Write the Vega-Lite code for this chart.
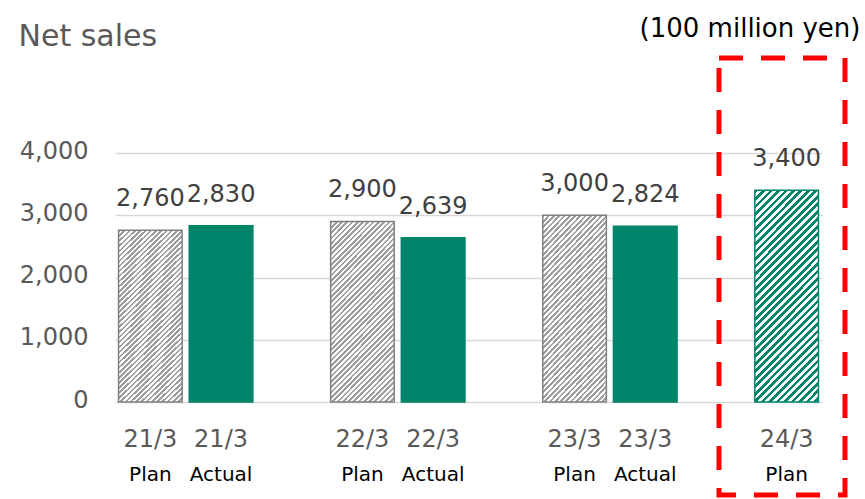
{
  "$schema": "https://vega.github.io/schema/vega-lite/v6.json",
  "width": 707,
  "height": 249,
  "autosize": {"type": "none"},
  "padding": {"left": 115, "top": 153, "right": 43, "bottom": 97},
  "background": "#ffffff",
  "config": {"view": {"stroke": null}, "font": "DejaVu Sans"},
  "data": {"values": [
    {"key": "21/3 Plan", "period": "21/3", "type": "Plan", "value": 2760},
    {"key": "21/3 Actual", "period": "21/3", "type": "Actual", "value": 2830},
    {"key": "22/3 Plan", "period": "22/3", "type": "Plan", "value": 2900},
    {"key": "22/3 Actual", "period": "22/3", "type": "Actual", "value": 2639},
    {"key": "23/3 Plan", "period": "23/3", "type": "Plan", "value": 3000},
    {"key": "23/3 Actual", "period": "23/3", "type": "Actual", "value": 2824},
    {"key": "24/3 Plan", "period": "24/3", "type": "Plan", "value": 3400}
  ]},
  "resolve": {"scale": {"x": "independent", "y": "independent"}},
  "layer": [
    {
      "mark": {"type": "bar", "strokeWidth": 1.5},
      "encoding": {
        "x": {
          "field": "key", "type": "nominal",
          "scale": {"type": "band", "domain": ["21/3 Plan", "21/3 Actual", "gap1", "22/3 Plan", "22/3 Actual", "gap2", "23/3 Plan", "23/3 Actual", "gap3", "24/3 Plan"], "paddingInner": 0.1, "paddingOuter": 0.05},
          "axis": {"orient": "bottom", "domain": false, "ticks": false, "grid": false, "labelAngle": 0, "labelOverlap": false, "labelBound": false, "labelFlush": false,
            "labelExpr": "length(split(datum.value, ' ')) > 1 ? split(datum.value, ' ')[0] : ''",
            "labelFontSize": 24, "labelColor": "#595959", "labelFont": "DejaVu Sans", "labelPadding": 44, "labelBaseline": "alphabetic", "title": null}
        },
        "y": {
          "field": "value", "type": "quantitative",
          "scale": {"domain": [0, 4000]},
          "axis": {"values": [0, 1000, 2000, 3000, 4000], "format": ",.0f", "grid": true, "gridColor": "#d9d9d9", "gridWidth": 1.3, "domain": false, "ticks": false,
            "labelFontSize": 24, "labelColor": "#595959", "labelFont": "DejaVu Sans", "labelPadding": 27, "labelBaseline": "middle", "labelOffset": -2,
            "title": "Net sales", "titleAngle": 0, "titleX": -97, "titleY": -108, "titleAlign": "left", "titleBaseline": "alphabetic",
            "titleFontSize": 30, "titleFont": "DejaVu Sans", "titleFontWeight": "normal", "titleColor": "#595959"}
        },
        "fill": {
          "condition": [
            {"test": "datum.type === 'Actual'", "value": "#00846a"},
            {"test": "datum.period === '24/3'", "value": {"gradient": "linear", "x1": 0, "y1": 0, "x2": 0.489, "y2": 1.621, "stops": [
{"offset":0,"color":"#00846a"},{"offset":0.01,"color":"#00846a"},{"offset":0.01,"color":"#fff"},{"offset":0.02,"color":"#fff"},
{"offset":0.02,"color":"#00846a"},{"offset":0.03,"color":"#00846a"},{"offset":0.03,"color":"#fff"},{"offset":0.04,"color":"#fff"},
{"offset":0.04,"color":"#00846a"},{"offset":0.05,"color":"#00846a"},{"offset":0.05,"color":"#fff"},{"offset":0.06,"color":"#fff"},
{"offset":0.06,"color":"#00846a"},{"offset":0.07,"color":"#00846a"},{"offset":0.07,"color":"#fff"},{"offset":0.08,"color":"#fff"},
{"offset":0.08,"color":"#00846a"},{"offset":0.09,"color":"#00846a"},{"offset":0.09,"color":"#fff"},{"offset":0.10,"color":"#fff"},
{"offset":0.10,"color":"#00846a"},{"offset":0.11,"color":"#00846a"},{"offset":0.11,"color":"#fff"},{"offset":0.12,"color":"#fff"},
{"offset":0.12,"color":"#00846a"},{"offset":0.13,"color":"#00846a"},{"offset":0.13,"color":"#fff"},{"offset":0.14,"color":"#fff"},
{"offset":0.14,"color":"#00846a"},{"offset":0.15,"color":"#00846a"},{"offset":0.15,"color":"#fff"},{"offset":0.16,"color":"#fff"},
{"offset":0.16,"color":"#00846a"},{"offset":0.17,"color":"#00846a"},{"offset":0.17,"color":"#fff"},{"offset":0.18,"color":"#fff"},
{"offset":0.18,"color":"#00846a"},{"offset":0.19,"color":"#00846a"},{"offset":0.19,"color":"#fff"},{"offset":0.20,"color":"#fff"},
{"offset":0.20,"color":"#00846a"},{"offset":0.21,"color":"#00846a"},{"offset":0.21,"color":"#fff"},{"offset":0.22,"color":"#fff"},
{"offset":0.22,"color":"#00846a"},{"offset":0.23,"color":"#00846a"},{"offset":0.23,"color":"#fff"},{"offset":0.24,"color":"#fff"},
{"offset":0.24,"color":"#00846a"},{"offset":0.25,"color":"#00846a"},{"offset":0.25,"color":"#fff"},{"offset":0.26,"color":"#fff"},
{"offset":0.26,"color":"#00846a"},{"offset":0.27,"color":"#00846a"},{"offset":0.27,"color":"#fff"},{"offset":0.28,"color":"#fff"},
{"offset":0.28,"color":"#00846a"},{"offset":0.29,"color":"#00846a"},{"offset":0.29,"color":"#fff"},{"offset":0.30,"color":"#fff"},
{"offset":0.30,"color":"#00846a"},{"offset":0.31,"color":"#00846a"},{"offset":0.31,"color":"#fff"},{"offset":0.32,"color":"#fff"},
{"offset":0.32,"color":"#00846a"},{"offset":0.33,"color":"#00846a"},{"offset":0.33,"color":"#fff"},{"offset":0.34,"color":"#fff"},
{"offset":0.34,"color":"#00846a"},{"offset":0.35,"color":"#00846a"},{"offset":0.35,"color":"#fff"},{"offset":0.36,"color":"#fff"},
{"offset":0.36,"color":"#00846a"},{"offset":0.37,"color":"#00846a"},{"offset":0.37,"color":"#fff"},{"offset":0.38,"color":"#fff"},
{"offset":0.38,"color":"#00846a"},{"offset":0.39,"color":"#00846a"},{"offset":0.39,"color":"#fff"},{"offset":0.40,"color":"#fff"},
{"offset":0.40,"color":"#00846a"},{"offset":0.41,"color":"#00846a"},{"offset":0.41,"color":"#fff"},{"offset":0.42,"color":"#fff"},
{"offset":0.42,"color":"#00846a"},{"offset":0.43,"color":"#00846a"},{"offset":0.43,"color":"#fff"},{"offset":0.44,"color":"#fff"},
{"offset":0.44,"color":"#00846a"},{"offset":0.45,"color":"#00846a"},{"offset":0.45,"color":"#fff"},{"offset":0.46,"color":"#fff"},
{"offset":0.46,"color":"#00846a"},{"offset":0.47,"color":"#00846a"},{"offset":0.47,"color":"#fff"},{"offset":0.48,"color":"#fff"},
{"offset":0.48,"color":"#00846a"},{"offset":0.49,"color":"#00846a"},{"offset":0.49,"color":"#fff"},{"offset":0.50,"color":"#fff"},
{"offset":0.50,"color":"#00846a"},{"offset":0.51,"color":"#00846a"},{"offset":0.51,"color":"#fff"},{"offset":0.52,"color":"#fff"},
{"offset":0.52,"color":"#00846a"},{"offset":0.53,"color":"#00846a"},{"offset":0.53,"color":"#fff"},{"offset":0.54,"color":"#fff"},
{"offset":0.54,"color":"#00846a"},{"offset":0.55,"color":"#00846a"},{"offset":0.55,"color":"#fff"},{"offset":0.56,"color":"#fff"},
{"offset":0.56,"color":"#00846a"},{"offset":0.57,"color":"#00846a"},{"offset":0.57,"color":"#fff"},{"offset":0.58,"color":"#fff"},
{"offset":0.58,"color":"#00846a"},{"offset":0.59,"color":"#00846a"},{"offset":0.59,"color":"#fff"},{"offset":0.60,"color":"#fff"},
{"offset":0.60,"color":"#00846a"},{"offset":0.61,"color":"#00846a"},{"offset":0.61,"color":"#fff"},{"offset":0.62,"color":"#fff"},
{"offset":0.62,"color":"#00846a"},{"offset":0.63,"color":"#00846a"},{"offset":0.63,"color":"#fff"},{"offset":0.64,"color":"#fff"},
{"offset":0.64,"color":"#00846a"},{"offset":0.65,"color":"#00846a"},{"offset":0.65,"color":"#fff"},{"offset":0.66,"color":"#fff"},
{"offset":0.66,"color":"#00846a"},{"offset":0.67,"color":"#00846a"},{"offset":0.67,"color":"#fff"},{"offset":0.68,"color":"#fff"},
{"offset":0.68,"color":"#00846a"},{"offset":0.69,"color":"#00846a"},{"offset":0.69,"color":"#fff"},{"offset":0.70,"color":"#fff"},
{"offset":0.70,"color":"#00846a"},{"offset":0.71,"color":"#00846a"},{"offset":0.71,"color":"#fff"},{"offset":0.72,"color":"#fff"},
{"offset":0.72,"color":"#00846a"},{"offset":0.73,"color":"#00846a"},{"offset":0.73,"color":"#fff"},{"offset":0.74,"color":"#fff"},
{"offset":0.74,"color":"#00846a"},{"offset":0.75,"color":"#00846a"},{"offset":0.75,"color":"#fff"},{"offset":0.76,"color":"#fff"},
{"offset":0.76,"color":"#00846a"},{"offset":0.77,"color":"#00846a"},{"offset":0.77,"color":"#fff"},{"offset":0.78,"color":"#fff"},
{"offset":0.78,"color":"#00846a"},{"offset":0.79,"color":"#00846a"},{"offset":0.79,"color":"#fff"},{"offset":0.80,"color":"#fff"},
{"offset":0.80,"color":"#00846a"},{"offset":0.81,"color":"#00846a"},{"offset":0.81,"color":"#fff"},{"offset":0.82,"color":"#fff"},
{"offset":0.82,"color":"#00846a"},{"offset":0.83,"color":"#00846a"},{"offset":0.83,"color":"#fff"},{"offset":0.84,"color":"#fff"},
{"offset":0.84,"color":"#00846a"},{"offset":0.85,"color":"#00846a"},{"offset":0.85,"color":"#fff"},{"offset":0.86,"color":"#fff"},
{"offset":0.86,"color":"#00846a"},{"offset":0.87,"color":"#00846a"},{"offset":0.87,"color":"#fff"},{"offset":0.88,"color":"#fff"},
{"offset":0.88,"color":"#00846a"},{"offset":0.89,"color":"#00846a"},{"offset":0.89,"color":"#fff"},{"offset":0.90,"color":"#fff"},
{"offset":0.90,"color":"#00846a"},{"offset":0.91,"color":"#00846a"},{"offset":0.91,"color":"#fff"},{"offset":0.92,"color":"#fff"},
{"offset":0.92,"color":"#00846a"},{"offset":0.93,"color":"#00846a"},{"offset":0.93,"color":"#fff"},{"offset":0.94,"color":"#fff"},
{"offset":0.94,"color":"#00846a"},{"offset":0.95,"color":"#00846a"},{"offset":0.95,"color":"#fff"},{"offset":0.96,"color":"#fff"},
{"offset":0.96,"color":"#00846a"},{"offset":0.97,"color":"#00846a"},{"offset":0.97,"color":"#fff"},{"offset":0.98,"color":"#fff"},
{"offset":0.98,"color":"#00846a"},{"offset":0.99,"color":"#00846a"},{"offset":0.99,"color":"#fff"},{"offset":1,"color":"#fff"}
            ]}}
          ],
          "value": {"gradient": "linear", "x1": 0, "y1": 0, "x2": 0.465, "y2": 1.307, "stops": [
{"offset":0,"color":"#9e9e9e"},{"offset":0.01,"color":"#9e9e9e"},{"offset":0.01,"color":"#fff"},{"offset":0.02,"color":"#fff"},
{"offset":0.02,"color":"#9e9e9e"},{"offset":0.03,"color":"#9e9e9e"},{"offset":0.03,"color":"#fff"},{"offset":0.04,"color":"#fff"},
{"offset":0.04,"color":"#9e9e9e"},{"offset":0.05,"color":"#9e9e9e"},{"offset":0.05,"color":"#fff"},{"offset":0.06,"color":"#fff"},
{"offset":0.06,"color":"#9e9e9e"},{"offset":0.07,"color":"#9e9e9e"},{"offset":0.07,"color":"#fff"},{"offset":0.08,"color":"#fff"},
{"offset":0.08,"color":"#9e9e9e"},{"offset":0.09,"color":"#9e9e9e"},{"offset":0.09,"color":"#fff"},{"offset":0.10,"color":"#fff"},
{"offset":0.10,"color":"#9e9e9e"},{"offset":0.11,"color":"#9e9e9e"},{"offset":0.11,"color":"#fff"},{"offset":0.12,"color":"#fff"},
{"offset":0.12,"color":"#9e9e9e"},{"offset":0.13,"color":"#9e9e9e"},{"offset":0.13,"color":"#fff"},{"offset":0.14,"color":"#fff"},
{"offset":0.14,"color":"#9e9e9e"},{"offset":0.15,"color":"#9e9e9e"},{"offset":0.15,"color":"#fff"},{"offset":0.16,"color":"#fff"},
{"offset":0.16,"color":"#9e9e9e"},{"offset":0.17,"color":"#9e9e9e"},{"offset":0.17,"color":"#fff"},{"offset":0.18,"color":"#fff"},
{"offset":0.18,"color":"#9e9e9e"},{"offset":0.19,"color":"#9e9e9e"},{"offset":0.19,"color":"#fff"},{"offset":0.20,"color":"#fff"},
{"offset":0.20,"color":"#9e9e9e"},{"offset":0.21,"color":"#9e9e9e"},{"offset":0.21,"color":"#fff"},{"offset":0.22,"color":"#fff"},
{"offset":0.22,"color":"#9e9e9e"},{"offset":0.23,"color":"#9e9e9e"},{"offset":0.23,"color":"#fff"},{"offset":0.24,"color":"#fff"},
{"offset":0.24,"color":"#9e9e9e"},{"offset":0.25,"color":"#9e9e9e"},{"offset":0.25,"color":"#fff"},{"offset":0.26,"color":"#fff"},
{"offset":0.26,"color":"#9e9e9e"},{"offset":0.27,"color":"#9e9e9e"},{"offset":0.27,"color":"#fff"},{"offset":0.28,"color":"#fff"},
{"offset":0.28,"color":"#9e9e9e"},{"offset":0.29,"color":"#9e9e9e"},{"offset":0.29,"color":"#fff"},{"offset":0.30,"color":"#fff"},
{"offset":0.30,"color":"#9e9e9e"},{"offset":0.31,"color":"#9e9e9e"},{"offset":0.31,"color":"#fff"},{"offset":0.32,"color":"#fff"},
{"offset":0.32,"color":"#9e9e9e"},{"offset":0.33,"color":"#9e9e9e"},{"offset":0.33,"color":"#fff"},{"offset":0.34,"color":"#fff"},
{"offset":0.34,"color":"#9e9e9e"},{"offset":0.35,"color":"#9e9e9e"},{"offset":0.35,"color":"#fff"},{"offset":0.36,"color":"#fff"},
{"offset":0.36,"color":"#9e9e9e"},{"offset":0.37,"color":"#9e9e9e"},{"offset":0.37,"color":"#fff"},{"offset":0.38,"color":"#fff"},
{"offset":0.38,"color":"#9e9e9e"},{"offset":0.39,"color":"#9e9e9e"},{"offset":0.39,"color":"#fff"},{"offset":0.40,"color":"#fff"},
{"offset":0.40,"color":"#9e9e9e"},{"offset":0.41,"color":"#9e9e9e"},{"offset":0.41,"color":"#fff"},{"offset":0.42,"color":"#fff"},
{"offset":0.42,"color":"#9e9e9e"},{"offset":0.43,"color":"#9e9e9e"},{"offset":0.43,"color":"#fff"},{"offset":0.44,"color":"#fff"},
{"offset":0.44,"color":"#9e9e9e"},{"offset":0.45,"color":"#9e9e9e"},{"offset":0.45,"color":"#fff"},{"offset":0.46,"color":"#fff"},
{"offset":0.46,"color":"#9e9e9e"},{"offset":0.47,"color":"#9e9e9e"},{"offset":0.47,"color":"#fff"},{"offset":0.48,"color":"#fff"},
{"offset":0.48,"color":"#9e9e9e"},{"offset":0.49,"color":"#9e9e9e"},{"offset":0.49,"color":"#fff"},{"offset":0.50,"color":"#fff"},
{"offset":0.50,"color":"#9e9e9e"},{"offset":0.51,"color":"#9e9e9e"},{"offset":0.51,"color":"#fff"},{"offset":0.52,"color":"#fff"},
{"offset":0.52,"color":"#9e9e9e"},{"offset":0.53,"color":"#9e9e9e"},{"offset":0.53,"color":"#fff"},{"offset":0.54,"color":"#fff"},
{"offset":0.54,"color":"#9e9e9e"},{"offset":0.55,"color":"#9e9e9e"},{"offset":0.55,"color":"#fff"},{"offset":0.56,"color":"#fff"},
{"offset":0.56,"color":"#9e9e9e"},{"offset":0.57,"color":"#9e9e9e"},{"offset":0.57,"color":"#fff"},{"offset":0.58,"color":"#fff"},
{"offset":0.58,"color":"#9e9e9e"},{"offset":0.59,"color":"#9e9e9e"},{"offset":0.59,"color":"#fff"},{"offset":0.60,"color":"#fff"},
{"offset":0.60,"color":"#9e9e9e"},{"offset":0.61,"color":"#9e9e9e"},{"offset":0.61,"color":"#fff"},{"offset":0.62,"color":"#fff"},
{"offset":0.62,"color":"#9e9e9e"},{"offset":0.63,"color":"#9e9e9e"},{"offset":0.63,"color":"#fff"},{"offset":0.64,"color":"#fff"},
{"offset":0.64,"color":"#9e9e9e"},{"offset":0.65,"color":"#9e9e9e"},{"offset":0.65,"color":"#fff"},{"offset":0.66,"color":"#fff"},
{"offset":0.66,"color":"#9e9e9e"},{"offset":0.67,"color":"#9e9e9e"},{"offset":0.67,"color":"#fff"},{"offset":0.68,"color":"#fff"},
{"offset":0.68,"color":"#9e9e9e"},{"offset":0.69,"color":"#9e9e9e"},{"offset":0.69,"color":"#fff"},{"offset":0.70,"color":"#fff"},
{"offset":0.70,"color":"#9e9e9e"},{"offset":0.71,"color":"#9e9e9e"},{"offset":0.71,"color":"#fff"},{"offset":0.72,"color":"#fff"},
{"offset":0.72,"color":"#9e9e9e"},{"offset":0.73,"color":"#9e9e9e"},{"offset":0.73,"color":"#fff"},{"offset":0.74,"color":"#fff"},
{"offset":0.74,"color":"#9e9e9e"},{"offset":0.75,"color":"#9e9e9e"},{"offset":0.75,"color":"#fff"},{"offset":0.76,"color":"#fff"},
{"offset":0.76,"color":"#9e9e9e"},{"offset":0.77,"color":"#9e9e9e"},{"offset":0.77,"color":"#fff"},{"offset":0.78,"color":"#fff"},
{"offset":0.78,"color":"#9e9e9e"},{"offset":0.79,"color":"#9e9e9e"},{"offset":0.79,"color":"#fff"},{"offset":0.80,"color":"#fff"},
{"offset":0.80,"color":"#9e9e9e"},{"offset":0.81,"color":"#9e9e9e"},{"offset":0.81,"color":"#fff"},{"offset":0.82,"color":"#fff"},
{"offset":0.82,"color":"#9e9e9e"},{"offset":0.83,"color":"#9e9e9e"},{"offset":0.83,"color":"#fff"},{"offset":0.84,"color":"#fff"},
{"offset":0.84,"color":"#9e9e9e"},{"offset":0.85,"color":"#9e9e9e"},{"offset":0.85,"color":"#fff"},{"offset":0.86,"color":"#fff"},
{"offset":0.86,"color":"#9e9e9e"},{"offset":0.87,"color":"#9e9e9e"},{"offset":0.87,"color":"#fff"},{"offset":0.88,"color":"#fff"},
{"offset":0.88,"color":"#9e9e9e"},{"offset":0.89,"color":"#9e9e9e"},{"offset":0.89,"color":"#fff"},{"offset":0.90,"color":"#fff"},
{"offset":0.90,"color":"#9e9e9e"},{"offset":0.91,"color":"#9e9e9e"},{"offset":0.91,"color":"#fff"},{"offset":0.92,"color":"#fff"},
{"offset":0.92,"color":"#9e9e9e"},{"offset":0.93,"color":"#9e9e9e"},{"offset":0.93,"color":"#fff"},{"offset":0.94,"color":"#fff"},
{"offset":0.94,"color":"#9e9e9e"},{"offset":0.95,"color":"#9e9e9e"},{"offset":0.95,"color":"#fff"},{"offset":0.96,"color":"#fff"},
{"offset":0.96,"color":"#9e9e9e"},{"offset":0.97,"color":"#9e9e9e"},{"offset":0.97,"color":"#fff"},{"offset":0.98,"color":"#fff"},
{"offset":0.98,"color":"#9e9e9e"},{"offset":0.99,"color":"#9e9e9e"},{"offset":0.99,"color":"#fff"},{"offset":1,"color":"#fff"}
          ]}
        },
        "stroke": {
          "condition": [{"test": "datum.type === 'Plan' && datum.period !== '24/3'", "value": "#808080"}],
          "value": "#00846a"
        }
      }
    },
    {
      "mark": {"type": "text", "baseline": "alphabetic", "dy": -24, "fontSize": 24, "font": "DejaVu Sans", "color": "#404040"},
      "encoding": {
        "x": {
          "field": "key", "type": "nominal",
          "scale": {"type": "band", "domain": ["21/3 Plan", "21/3 Actual", "gap1", "22/3 Plan", "22/3 Actual", "gap2", "23/3 Plan", "23/3 Actual", "gap3", "24/3 Plan"], "paddingInner": 0.1, "paddingOuter": 0.05},
          "axis": {"orient": "bottom", "domain": false, "ticks": false, "grid": false, "labelAngle": 0, "labelOverlap": false, "labelBound": false, "labelFlush": false,
            "labelExpr": "length(split(datum.value, ' ')) > 1 ? split(datum.value, ' ')[1] : ''",
            "labelFontSize": 20, "labelColor": "#000000", "labelFont": "DejaVu Sans", "labelPadding": 78, "labelDx": 9, "labelBaseline": "alphabetic", "title": null}
        },
        "y": {"field": "value", "type": "quantitative", "scale": {"domain": [0, 4000]}, "axis": null},
        "text": {"field": "value", "type": "quantitative", "format": ",.0f"}
      }
    },
    {
      "data": {"values": [{}]},
      "mark": {"type": "rect", "fill": "transparent", "stroke": "#ff0000", "strokeWidth": 5, "strokeDash": [24, 18]},
      "encoding": {
        "x": {"datum": 8.543, "type": "quantitative", "scale": {"domain": [0, 10], "nice": false, "zero": false},
          "axis": {"orient": "top", "labels": false, "ticks": false, "domain": false, "grid": false,
            "title": "(100 million yen)", "titleX": 745, "titleY": -117, "titleAlign": "right", "titleBaseline": "alphabetic",
            "titleFontSize": 26, "titleFont": "DejaVu Sans", "titleFontWeight": "normal", "titleColor": "#000000"}},
        "x2": {"datum": 10.325},
        "y": {"datum": 5526, "type": "quantitative", "scale": {"domain": [0, 4000], "nice": false}, "axis": null},
        "y2": {"datum": -1494}
      }
    }
  ]
}
